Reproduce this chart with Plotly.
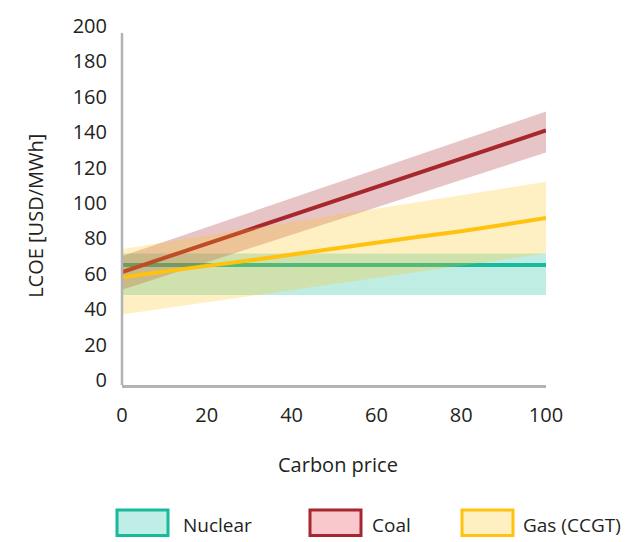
import plotly.graph_objects as go

carbon_price = [0, 10, 20, 30, 40, 50, 60, 70, 80, 90, 100]

nuclear_mid = [65, 65, 65, 65, 65, 65, 65, 65, 65, 65, 65]
nuclear_low = [48, 48, 48, 48, 48, 48, 48, 48, 48, 48, 48]
nuclear_high = [71.5, 71.5, 71.5, 71.5, 71.5, 71.5, 71.5, 71.5, 71.5, 71.5, 71.5]

coal_mid = [61, 69, 77, 85, 93, 101, 109, 117, 125, 133, 141]
coal_low = [51, 58.8, 66.5, 74.3, 82, 89.8, 97.5, 105.3, 113, 120.8, 128.5]
coal_high = [70, 78.2, 86.3, 94.5, 102.7, 110.9, 119, 127.2, 135.4, 143.5, 151.7]

gas_mid = [58, 61.5, 64.5, 67.5, 71, 74.5, 77.5, 81, 84, 88, 91.5]
gas_low = [37, 40.5, 43.9, 47.4, 50.8, 54.3, 57.7, 61.2, 64.6, 68.1, 71.5]
gas_high = [74, 77.8, 81.6, 85.4, 89.2, 93, 96.8, 100.6, 104.4, 108.2, 112]

y_ticks = [0, 20, 40, 60, 80, 100, 120, 140, 160, 180, 200]
x_ticks = [0, 20, 40, 60, 80, 100]

series = [
    ("Nuclear", nuclear_low, nuclear_mid, nuclear_high, "#19b99c", "rgba(25,185,156,0.28)", "#bfeee6"),
    ("Coal", coal_low, coal_mid, coal_high, "#a8262e", "rgba(168,38,46,0.27)", "#f9c8cc"),
    ("Gas (CCGT)", gas_low, gas_mid, gas_high, "#ffc20e", "rgba(255,194,14,0.25)", "#fff0c2"),
]

FONT = "Open Sans"
fig = go.Figure()
for name, lo, mid, hi, line_c, fill_c, _ in series:
    fig.add_trace(go.Scatter(x=carbon_price, y=hi, mode="lines", line=dict(width=0),
                             hoverinfo="skip", showlegend=False))
    fig.add_trace(go.Scatter(x=carbon_price, y=lo, mode="lines", line=dict(width=0),
                             fill="tonexty", fillcolor=fill_c, hoverinfo="skip", showlegend=False))
    fig.add_trace(go.Scatter(x=carbon_price, y=mid, mode="lines", name=name,
                             line=dict(color=line_c, width=4), showlegend=False))

axis_col = "#b2b2b7"
fig.update_layout(
    width=629, height=542,
    margin=dict(l=122, r=83, t=20, b=157),
    paper_bgcolor="white", plot_bgcolor="white",
    font=dict(family=FONT, size=20, color="#231f20"),
    showlegend=False,
    xaxis=dict(range=[0, 100], tickvals=x_ticks, showgrid=False, zeroline=False,
               showline=True, linecolor=axis_col, linewidth=2.5,
               ticks="outside", ticklen=10, tickcolor="rgba(0,0,0,0)",
               tickfont=dict(size=20, family=FONT)),
    yaxis=dict(range=[-2.8, 200], tickvals=y_ticks, showgrid=False, zeroline=False,
               showline=False, ticks="outside", ticklen=10, tickcolor="rgba(0,0,0,0)",
               tickfont=dict(size=20, family=FONT)),
)

# y axis line (stops slightly below the top tick)
fig.add_shape(type="line", xref="paper", yref="y", x0=0, x1=0, y0=-2.8, y1=196,
              line=dict(color=axis_col, width=2.5))

pl, pr, pt, pb = 122, 546, 20, 385
def px_x(px):
    return (px - pl) / (pr - pl)
def px_y(py):
    return (pb - py) / (pb - pt)

fig.add_annotation(text="Carbon price", xref="paper", yref="paper", x=px_x(338), y=px_y(466),
                   showarrow=False, font=dict(size=20, family=FONT), xanchor="center", yanchor="middle")
fig.add_annotation(text="LCOE [USD/MWh]", xref="paper", yref="paper", x=px_x(36), y=px_y(213),
                   textangle=-90, showarrow=False, font=dict(size=20, family=FONT),
                   xanchor="center", yanchor="middle")

# custom legend
legend_pos = [(117, 181), (310, 370), (462, 521)]
for (name, _, _, _, line_c, _, box_fill), (bx, tx) in zip(series, legend_pos):
    fig.add_shape(type="rect", xref="paper", yref="paper",
                  x0=px_x(bx), x1=px_x(bx + 51), y0=px_y(538), y1=px_y(512),
                  fillcolor=box_fill, line=dict(color=line_c, width=3))
    fig.add_annotation(text=name, xref="paper", yref="paper", x=px_x(tx), y=px_y(527),
                       xanchor="left", yanchor="middle", showarrow=False,
                       font=dict(size=19, family=FONT))

fig.write_html("out.html", config={"displayModeBar": False},
               post_script="document.body.style.margin='0';document.body.style.overflow='hidden';")
